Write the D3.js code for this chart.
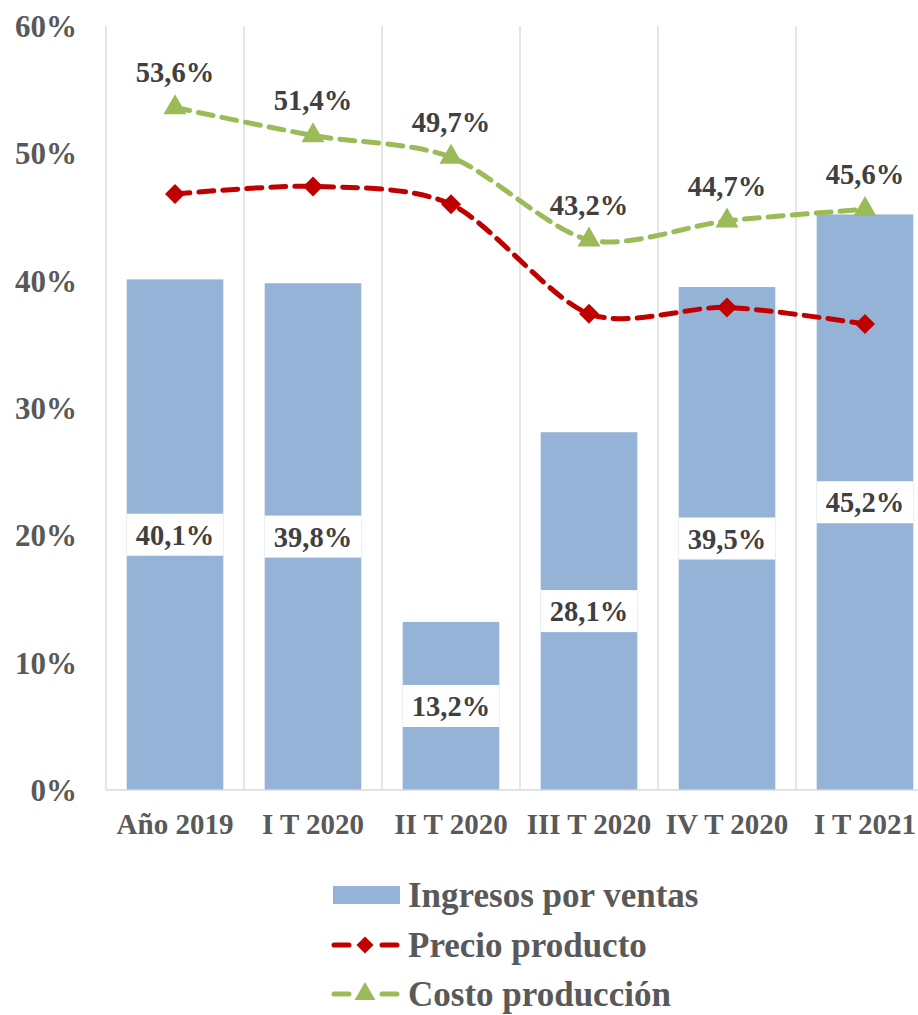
<!DOCTYPE html>
<html>
<head>
<meta charset="utf-8">
<script src="https://cdn.jsdelivr.net/npm/d3@7"></script>
<style>
  body { margin: 0; background: #fff; }
  text { font-family: "Liberation Serif", "Times New Roman", serif; font-weight: bold; }
</style>
</head>
<body>
<div id="chart-area"></div>
<script>
// data
var categories = ["Año 2019", "I T 2020", "II T 2020", "III T 2020", "IV T 2020", "I T 2021"];
var ingresos = [40.1, 39.8, 13.2, 28.1, 39.5, 45.2];
var precio = [46.8, 47.4, 46.0, 37.4, 37.9, 36.6];
var costo = [53.6, 51.4, 49.7, 43.2, 44.7, 45.6];
var yTicks = [0, 10, 20, 30, 40, 50, 60];
var seriesNames = ["Ingresos por ventas", "Precio producto", "Costo producción"];

var width = 918, height = 1015;
var svg = d3.select("#chart-area").append("svg")
  .attr("width", width)
  .attr("height", height);

var x = d3.scaleBand().domain(categories).range([106, 934]).paddingInner(0.3).paddingOuter(0.15);
var y = d3.scaleLinear().domain([0, 60]).range([790, 26]);

var fmt = function(v){ return v.toFixed(1).replace(".", ",") + "%"; };

// vertical gridlines at category boundaries
var step = x.step();
var bounds = d3.range(categories.length + 1).map(function(i){ return 106 + i * step; });
svg.selectAll(".grid").data(bounds).enter().append("line")
  .attr("x1", function(d){ return d; }).attr("x2", function(d){ return d; })
  .attr("y1", y(60)).attr("y2", y(0))
  .attr("stroke", "#d9d9d9").attr("stroke-width", 1.3);

// y axis labels
svg.selectAll(".ytick").data(yTicks).enter().append("text")
  .attr("x", 77).attr("y", function(d){ return y(d); })
  .attr("dy", "0.35em")
  .attr("text-anchor", "end")
  .attr("font-size", 31)
  .attr("fill", "#595959")
  .text(function(d){ return d + "%"; });

// bars
svg.selectAll(".bar").data(ingresos).enter().append("rect")
  .attr("x", function(d, i){ return x(categories[i]); })
  .attr("width", x.bandwidth())
  .attr("y", function(d){ return y(d); })
  .attr("height", function(d){ return y(0) - y(d); })
  .attr("fill", "#95b3d7");

// baseline
svg.append("line")
  .attr("x1", 106).attr("x2", 934).attr("y1", y(0)).attr("y2", y(0))
  .attr("stroke", "#d9d9d9").attr("stroke-width", 1.5);

// bar labels in white boxes
var barLab = svg.selectAll(".blab").data(ingresos).enter().append("g")
  .attr("transform", function(d, i){
    return "translate(" + (x(categories[i]) + x.bandwidth() / 2) + "," + ((y(d) + y(0)) / 2) + ")";
  });
barLab.append("rect")
  .attr("x", -x.bandwidth() / 2).attr("width", x.bandwidth())
  .attr("y", -21).attr("height", 42)
  .attr("fill", "#fff");
barLab.append("text")
  .attr("text-anchor", "middle").attr("dy", "0.35em")
  .attr("font-size", 28.5).attr("fill", "#404040")
  .text(function(d){ return fmt(d); });

// x labels
svg.selectAll(".xlab").data(categories).enter().append("text")
  .attr("x", function(d){ return x(d) + x.bandwidth() / 2; })
  .attr("y", 824)
  .attr("dy", "0.35em")
  .attr("text-anchor", "middle")
  .attr("font-size", 29)
  .attr("fill", "#595959")
  .text(function(d){ return d; });

var cx = function(d, i){ return x(categories[i]) + x.bandwidth() / 2; };
var line = d3.line()
  .x(function(d, i){ return cx(d, i); })
  .y(function(d){ return y(d); })
  .curve(d3.curveCardinal.tension(0.15));

// precio line
svg.append("path").datum(precio)
  .attr("d", line).attr("fill", "none")
  .attr("stroke", "#c00000").attr("stroke-width", 5)
  .attr("stroke-dasharray", "15,9").attr("stroke-linecap", "round");
var diamond = d3.symbol().type(d3.symbolSquare).size(200);
svg.selectAll(".pmark").data(precio).enter().append("path")
  .attr("d", diamond)
  .attr("transform", function(d, i){ return "translate(" + cx(d, i) + "," + y(d) + ") rotate(45)"; })
  .attr("fill", "#c00000");

// costo line
svg.append("path").datum(costo)
  .attr("d", line).attr("fill", "none")
  .attr("stroke", "#9bbb59").attr("stroke-width", 5)
  .attr("stroke-dasharray", "15,9").attr("stroke-linecap", "round");
var tri = d3.symbol().type(d3.symbolTriangle).size(230);
svg.selectAll(".cmark").data(costo).enter().append("path")
  .attr("d", tri)
  .attr("transform", function(d, i){ return "translate(" + cx(d, i) + "," + y(d) + ")"; })
  .attr("fill", "#9bbb59");
svg.selectAll(".clab").data(costo).enter().append("text")
  .attr("x", function(d, i){ return cx(d, i); })
  .attr("y", function(d){ return y(d) - 35; })
  .attr("dy", "0.35em")
  .attr("text-anchor", "middle")
  .attr("font-size", 28.5).attr("fill", "#404040")
  .text(function(d){ return fmt(d); });

// legend
var legend = svg.append("g").attr("class", "legend");
var ly = [895, 945, 994];
legend.append("rect")
  .attr("x", 333).attr("y", ly[0] - 9).attr("width", 67).attr("height", 18)
  .attr("fill", "#95b3d7");
[["#c00000", diamond, "rotate(45) scale(0.85)"], ["#9bbb59", tri, "scale(0.9)"]].forEach(function(s, k){
  var yy = ly[k + 1];
  legend.append("line")
    .attr("x1", 334).attr("x2", 397).attr("y1", yy).attr("y2", yy)
    .attr("stroke", s[0]).attr("stroke-width", 5)
    .attr("stroke-dasharray", "15,33").attr("stroke-linecap", "round");
  legend.append("path")
    .attr("d", s[1])
    .attr("transform", "translate(365," + yy + ") " + s[2])
    .attr("fill", s[0]);
});
legend.selectAll(".ltext").data(seriesNames).enter().append("text")
  .attr("x", 408).attr("y", function(d, i){ return ly[i]; })
  .attr("dy", "0.35em")
  .attr("font-size", 35).attr("fill", "#595959")
  .text(function(d){ return d; });
</script>
</body>
</html>
